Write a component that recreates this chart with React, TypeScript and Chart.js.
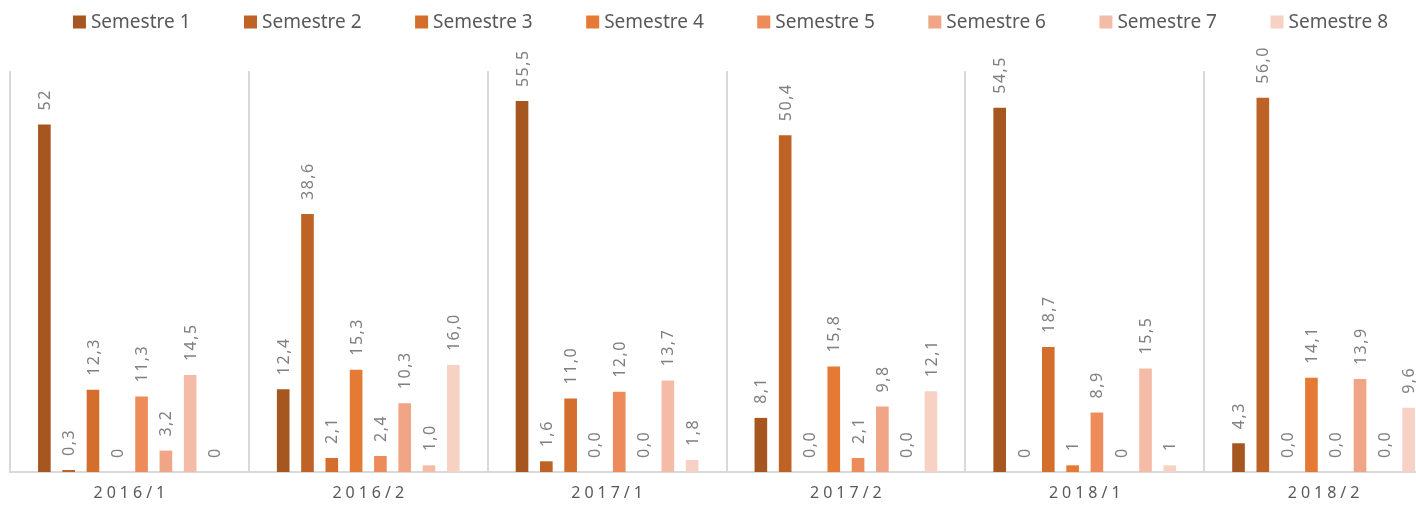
import React, { useEffect, useRef } from "react";
import { Chart, registerables } from "chart.js";

Chart.register(...registerables);

const categories = ["2016/1", "2016/2", "2017/1", "2017/2", "2018/1", "2018/2"];
const seriesNames = ["Semestre 1", "Semestre 2", "Semestre 3", "Semestre 4", "Semestre 5", "Semestre 6", "Semestre 7", "Semestre 8"];
const seriesColors = ["#A6561F", "#BE6226", "#D36E2D", "#E47A33", "#ED8C5A", "#F1A587", "#F4BCA6", "#F7D2C4"];

const sem1 = [52, 12.4, 55.5, 8.1, 54.5, 4.3];
const sem2 = [0.3, 38.6, 1.6, 50.4, 0, 56.0];
const sem3 = [12.3, 2.1, 11.0, 0.0, 18.7, 0.0];
const sem4 = [0, 15.3, 0.0, 15.8, 1, 14.1];
const sem5 = [11.3, 2.4, 12.0, 2.1, 8.9, 0.0];
const sem6 = [3.2, 10.3, 0.0, 9.8, 0, 13.9];
const sem7 = [14.5, 1.0, 13.7, 0.0, 15.5, 0.0];
const sem8 = [0, 16.0, 1.8, 12.1, 1, 9.6];

const sem1Labels = ["52", "12,4", "55,5", "8,1", "54,5", "4,3"];
const sem2Labels = ["0,3", "38,6", "1,6", "50,4", "0", "56,0"];
const sem3Labels = ["12,3", "2,1", "11,0", "0,0", "18,7", "0,0"];
const sem4Labels = ["0", "15,3", "0,0", "15,8", "1", "14,1"];
const sem5Labels = ["11,3", "2,4", "12,0", "2,1", "8,9", "0,0"];
const sem6Labels = ["3,2", "10,3", "0,0", "9,8", "0", "13,9"];
const sem7Labels = ["14,5", "1,0", "13,7", "0,0", "15,5", "0,0"];
const sem8Labels = ["0", "16,0", "1,8", "12,1", "1", "9,6"];

const seriesValues = [sem1, sem2, sem3, sem4, sem5, sem6, sem7, sem8];
const seriesLabels = [sem1Labels, sem2Labels, sem3Labels, sem4Labels, sem5Labels, sem6Labels, sem7Labels, sem8Labels];

const FONT = "'Noto Sans', 'Open Sans', sans-serif";

const legendPlugin = {
  id: "customLegend",
  afterDraw(chart: any) {
    const ctx = chart.ctx;
    const box = 13;
    const textGap = 5;
    const itemGap = 53.5;
    ctx.save();
    ctx.font = `19px ${FONT}`;
    const items = chart.data.datasets.map((ds: any) => ({
      label: ds.label,
      color: ds.backgroundColor,
      w: ctx.measureText(ds.label).width,
    }));
    const total = items.reduce((a: number, it: any) => a + box + textGap + it.w, 0) + itemGap * (items.length - 1);
    const center = (chart.chartArea.left + chart.chartArea.right) / 2 + 4;
    let x = center - total / 2;
    const cy = 22;
    ctx.textBaseline = "middle";
    ctx.textAlign = "left";
    items.forEach((it: any) => {
      ctx.fillStyle = it.color;
      ctx.fillRect(x, cy - box / 2, box, box);
      ctx.fillStyle = "#595959";
      ctx.fillText(it.label, x + box + textGap, cy + 1);
      x += box + textGap + it.w + itemGap;
    });
    ctx.restore();
  },
};

const valueLabelPlugin = {
  id: "valueLabels",
  afterDatasetsDraw(chart: any) {
    const ctx = chart.ctx;
    ctx.save();
    ctx.font = `16px ${FONT}`;
    ctx.fillStyle = "#808080";
    (ctx as any).letterSpacing = "1.5px";
    ctx.textAlign = "left";
    ctx.textBaseline = "middle";
    chart.data.datasets.forEach((ds: any, di: number) => {
      const meta = chart.getDatasetMeta(di);
      meta.data.forEach((el: any, i: number) => {
        const txt = seriesLabels[di][i];
        ctx.save();
        ctx.translate(el.x, el.y - 14);
        ctx.rotate(-Math.PI / 2);
        ctx.fillText(txt, 0, 1);
        ctx.restore();
      });
    });
    ctx.restore();
  },
};

const xLabelPlugin = {
  id: "xLabels",
  afterDraw(chart: any) {
    const ctx = chart.ctx;
    const xs = chart.scales.x;
    ctx.save();
    ctx.font = `16px ${FONT}`;
    ctx.fillStyle = "#595959";
    (ctx as any).letterSpacing = "4px";
    ctx.textAlign = "center";
    ctx.textBaseline = "middle";
    categories.forEach((c, i) => {
      const x = xs.getPixelForValue(i);
      ctx.fillText(c, x + 2, chart.chartArea.bottom + 21);
    });
    ctx.restore();
  },
};

export default function App() {
  const ref = useRef<HTMLCanvasElement | null>(null);
  useEffect(() => {
    if (!ref.current) return;
    const chart = new Chart(ref.current, {
      type: "bar",
      data: {
        labels: categories,
        datasets: seriesNames.map((name, i) => ({
          label: name,
          data: seriesValues[i],
          backgroundColor: seriesColors[i],
          borderWidth: 0,
          barPercentage: 0.52,
          categoryPercentage: 0.814,
        })),
      },
      options: {
        animation: false,
        responsive: true,
        maintainAspectRatio: false,
        layout: { padding: { top: 71, left: 10, right: 7, bottom: 0 } },
        plugins: {
          legend: { display: false },
          tooltip: { enabled: false },
        },
        scales: {
          x: {
            offset: true,
            grid: { offset: true, color: "#D9D9D9", lineWidth: 2, drawTicks: false },
            border: { color: "#D9D9D9", width: 2 },
            ticks: { display: false },
            afterFit: (scale: any) => {
              scale.height = 37;
            },
          },
          y: {
            display: false,
            min: 0,
            max: 60,
          },
        },
      },
      plugins: [legendPlugin, valueLabelPlugin, xLabelPlugin],
    });
    return () => chart.destroy();
  }, []);
  return (
    <div style={{ position: "fixed", left: 0, top: 0, width: 1416, height: 509, overflow: "hidden", background: "#fff" }}>
      <div style={{ position: "relative", width: 1450, height: 509 }}>
        <canvas ref={ref} />
      </div>
    </div>
  );
}
